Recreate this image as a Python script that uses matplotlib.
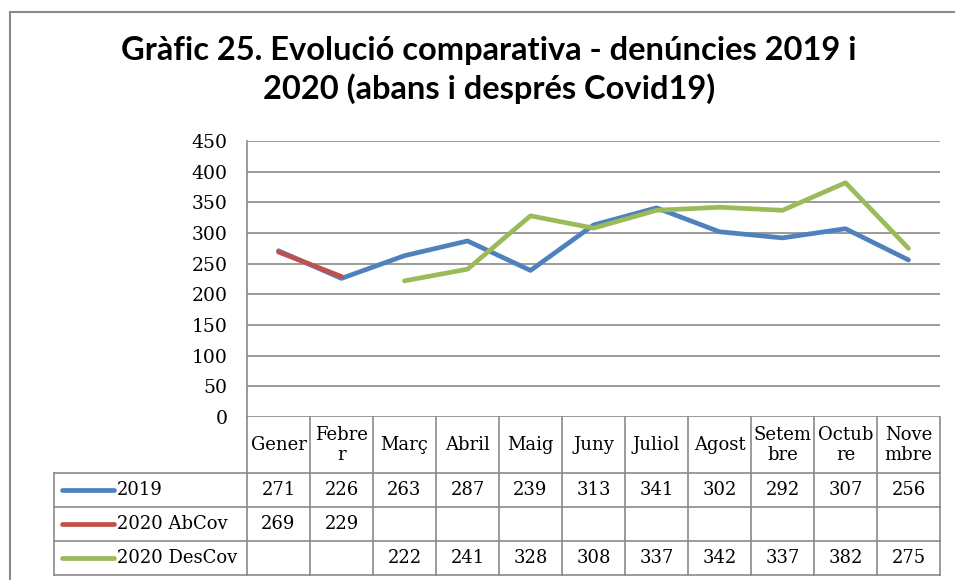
import numpy as np
import matplotlib.pyplot as plt
from matplotlib.lines import Line2D
from matplotlib.patches import Rectangle

# data
header_labels = ["Gener", "Febre\nr", "Març", "Abril", "Maig", "Juny", "Juliol",
                 "Agost", "Setem\nbre", "Octub\nre", "Nove\nmbre"]
vals_2019 = [271, 226, 263, 287, 239, 313, 341, 302, 292, 307, 256]
vals_abcov = [269, 229, None, None, None, None, None, None, None, None, None]
vals_descov = [None, None, 222, 241, 328, 308, 337, 342, 337, 382, 275]
series_names = ["2019", "2020 AbCov", "2020 DesCov"]
series_colors = ["#4F81BD", "#C0504D", "#9BBB59"]

W, H = 955, 580
body_font = ["DejaVu Serif"]
title_font = ["Lato", "DejaVu Sans"]
grey = "#8a8a8a"
fs = 13

fig = plt.figure(figsize=(W / 100, H / 100), dpi=100)
ax = fig.add_axes([247 / W, 1 - 417 / H, 693 / W, 276 / H])

x = np.arange(len(header_labels))
series = [vals_2019, vals_abcov, vals_descov]
for vals, color in zip(series, series_colors):
    y = np.array([np.nan if v is None else v for v in vals], dtype=float)
    ax.plot(x, y, color=color, lw=3.4, solid_capstyle="round", solid_joinstyle="round", zorder=3)

ax.set_xlim(-0.5, len(header_labels) - 0.5)
ax.set_ylim(0, 450)
ax.set_yticks(range(0, 451, 50))
ax.set_xticks([])
ax.grid(axis="y", color=grey, lw=1.2)
ax.set_axisbelow(True)
for s in ["top", "right", "bottom"]:
    ax.spines[s].set_visible(False)
ax.spines["left"].set_color(grey)
ax.spines["left"].set_linewidth(1.2)
ax.tick_params(axis="y", length=0, pad=14, labelsize=fs + 0.5, labelfontfamily="DejaVu Serif")


# table below the plot, pixel positions converted to axes fractions
def ay(py):
    return (417 - py) / 276


def axx(px):
    return (px - 247) / 693


n = len(header_labels)
rows_py = [417, 473, 507, 541, 575]
leg_left = 54


def tline(xs, ys):
    ax.add_line(Line2D(xs, ys, transform=ax.transAxes, color=grey, lw=1.2, clip_on=False))


for py in rows_py[1:]:
    tline([axx(leg_left), 1], [ay(py), ay(py)])
for i in range(n + 1):
    tline([i / n, i / n], [ay(rows_py[0]), ay(rows_py[-1])])
tline([axx(leg_left), axx(leg_left)], [ay(rows_py[1]), ay(rows_py[-1])])

txt = dict(transform=ax.transAxes, fontsize=fs, family=body_font, clip_on=False)
hy = ay((rows_py[0] + rows_py[1]) / 2)
for i, lab in enumerate(header_labels):
    ax.text((i + 0.5) / n, hy, lab, ha="center", va="center", multialignment="center",
            linespacing=1.15, **txt)

for r, (vals, name, color) in enumerate(zip(series, series_names, series_colors)):
    cy = ay((rows_py[r + 1] + rows_py[r + 2]) / 2)
    ax.add_line(Line2D([axx(62), axx(114)], [cy, cy], transform=ax.transAxes, color=color,
                       lw=3.4, solid_capstyle="round", clip_on=False))
    ax.text(axx(117), cy, name, ha="left", va="center", **txt)
    for i, v in enumerate(vals):
        if v is not None:
            ax.text((i + 0.5) / n, cy, str(v), ha="center", va="center", **txt)

fig.text(489 / W, 1 - 70 / H,
         "Gràfic 25. Evolució comparativa - denúncies 2019 i\n2020 (abans i després Covid19)",
         ha="center", va="center", fontsize=23.5, fontweight="bold", family=title_font,
         linespacing=1.3)

fig.patches.append(Rectangle((10 / W, -0.1), 1.1, 1 - 12 / H + 0.1, transform=fig.transFigure,
                             fill=False, edgecolor=grey, lw=1.5))

fig.savefig("out.png", dpi=100)
